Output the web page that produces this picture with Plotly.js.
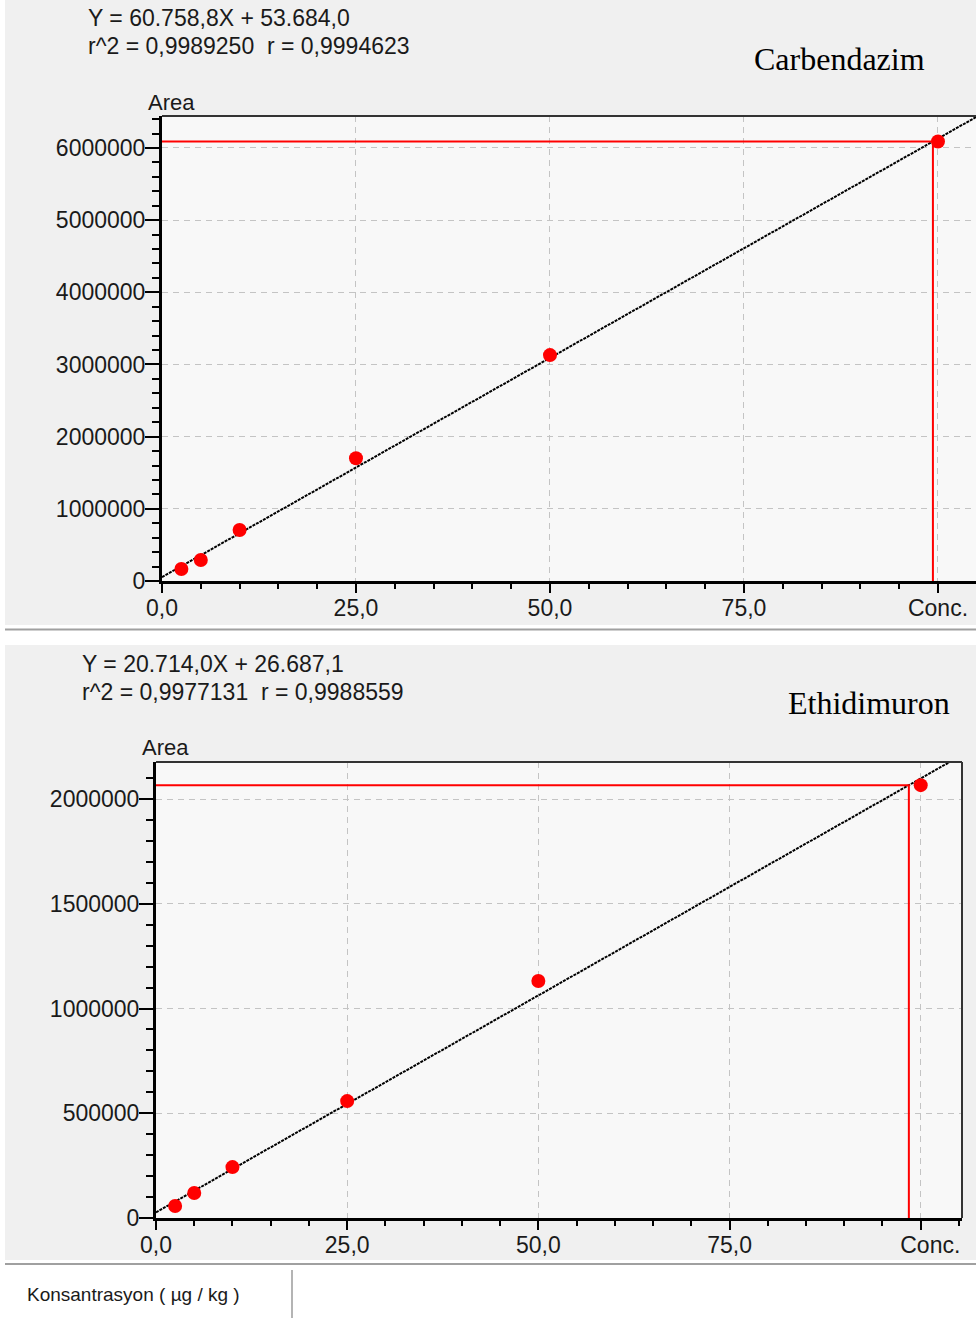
<!DOCTYPE html>
<html>
<head>
<meta charset="utf-8">
<script src="https://cdn.plot.ly/plotly-3.0.1.min.js"></script>
<style>html,body{margin:0;padding:0;background:#fff;}#chart{width:976px;height:1318px;}</style>
</head>
<body>
<div id="chart"></div>
<script>
// ---- data ----
const concentrations = [2.5, 5, 10, 25, 50, 100];
const carbendazimArea = [166000, 290000, 706000, 1700000, 3130000, 6090000];
const ethidimuronArea = [57000, 119000, 243000, 558000, 1131000, 2066000];
const carbendazimSlope = 60758.8, carbendazimIntercept = 53684.0;
const ethidimuronSlope = 20714.0, ethidimuronIntercept = 26687.1;
const xTickVals = [0, 25, 50, 75, 100];
const xTickTextTop = ['0,0', '25,0', '50,0', '75,0', 'Conc.'];
const xTickTextBottom = ['0,0', '25,0', '50,0', '75,0', '\u00a0\u00a0\u00a0Conc.'];
const carbYTicks = [0, 1000000, 2000000, 3000000, 4000000, 5000000, 6000000];
const ethiYTicks = [0, 500000, 1000000, 1500000, 2000000];
const carbEquation = ['Y = 60.758,8X + 53.684,0', 'r^2 = 0,9989250 \u00a0r = 0,9994623'];
const ethiEquation = ['Y = 20.714,0X + 26.687,1', 'r^2 = 0,9977131 \u00a0r = 0,9988559'];
const titles = ['Carbendazim', 'Ethidimuron'];
const footer = 'Konsantrasyon ( µg / kg )';

// ---- layout helpers ----
const W = 976, H = 1318;
const px = x => x / W;
const py = y => 1 - y / H;
const SANS = 'Liberation Sans, Arial, sans-serif';
const SERIF = 'Liberation Serif, Times New Roman, serif';
const tickFont = {family: SANS, size: 23, color: '#1a1a1a'};

const xRange1 = [0, 104.9], yRange1 = [0, 6443000];
const xRange2 = [0, 105.4], yRange2 = [0, 2176600];

function fitTraces(x, y, slope, intercept, xr, xa, ya) {
  const last = y[y.length - 1];
  const xc = (last - intercept) / slope;
  return [
    {x: [0, xr[1]], y: [intercept, slope * xr[1] + intercept], mode: 'lines',
     line: {color: '#000', width: 2, dash: '3px,1px'}, xaxis: xa, yaxis: ya, hoverinfo: 'skip'},
    {x: [0, xc, xc], y: [last, last, 0], mode: 'lines',
     line: {color: '#ff0000', width: 2}, xaxis: xa, yaxis: ya, hoverinfo: 'skip'},
    {x: x, y: y, mode: 'markers', marker: {color: '#ff0000', size: 14, symbol: 'circle'},
     xaxis: xa, yaxis: ya, cliponaxis: false}
  ];
}

const data = [
  ...fitTraces(concentrations, carbendazimArea, carbendazimSlope, carbendazimIntercept, xRange1, 'x', 'y'),
  ...fitTraces(concentrations, ethidimuronArea, ethidimuronSlope, ethidimuronIntercept, xRange2, 'x2', 'y2')
];

function xAxis(domain, range, anchor, tickText) {
  return {
    domain: domain, range: range, anchor: anchor, automargin: false,
    tickmode: 'array', tickvals: xTickVals, ticktext: tickText,
    ticks: 'outside', ticklen: 9, tickwidth: 2, tickcolor: '#000', ticklabelstandoff: -5,
    ticklabeloverflow: 'allow',
    minor: {tickmode: 'linear', tick0: 0, dtick: 5, ticks: 'outside', ticklen: 5, tickwidth: 2, tickcolor: '#000', showgrid: false},
    showline: true, linewidth: 3, linecolor: '#000',
    showgrid: true, gridcolor: '#c4c4c4', gridwidth: 1, griddash: '6px,5px',
    zeroline: false, tickfont: tickFont, fixedrange: true
  };
}
function yAxis(domain, range, anchor, ticks, minorStep) {
  return {
    domain: domain, range: range, anchor: anchor, automargin: false,
    tickmode: 'array', tickvals: ticks, tickformat: 'd',
    ticks: 'outside', ticklen: 14, tickwidth: 2, tickcolor: '#000', ticklabelstandoff: -5,
    minor: {tickmode: 'linear', tick0: 0, dtick: minorStep, ticks: 'outside', ticklen: 7, tickwidth: 2, tickcolor: '#000', showgrid: false},
    showline: true, linewidth: 3, linecolor: '#000',
    showgrid: true, gridcolor: '#c4c4c4', gridwidth: 1, griddash: '6px,5px',
    zeroline: false, tickfont: tickFont, fixedrange: true
  };
}

function ann(text, x, y, font, anchor) {
  return {text: text, xref: 'paper', yref: 'paper', x: px(x), y: py(y),
          xanchor: anchor || 'left', yanchor: 'middle', showarrow: false, font: font};
}
const eqFont = {family: SANS, size: 23, color: '#1a1a1a'};
const titleFont = {family: SERIF, size: 32, color: '#000'};

const layout = {
  width: W, height: H, margin: {l: 0, r: 0, t: 0, b: 0},
  paper_bgcolor: '#f0f0f0', plot_bgcolor: '#f8f8f8', showlegend: false,
  xaxis: xAxis([px(162), 1], xRange1, 'y', xTickTextTop),
  yaxis: yAxis([py(581), py(116)], yRange1, 'x', carbYTicks, 200000),
  xaxis2: xAxis([px(156), px(962)], xRange2, 'y2', xTickTextBottom),
  yaxis2: yAxis([py(1218), py(762)], yRange2, 'x2', ethiYTicks, 100000),
  annotations: [
    ann(carbEquation[0], 86, 18, eqFont),
    ann(carbEquation[1], 86, 46, eqFont),
    ann('Area', 146, 102, {family: SANS, size: 22, color: '#1a1a1a'}),
    ann(titles[0], 752, 59, titleFont),
    ann(ethiEquation[0], 80, 664, eqFont),
    ann(ethiEquation[1], 80, 692, eqFont),
    ann('Area', 140, 747, {family: SANS, size: 22, color: '#1a1a1a'}),
    ann(titles[1], 786, 703, titleFont),
    ann(footer, 25, 1294, {family: SANS, size: 19, color: '#1a1a1a'})
  ],
  shapes: [
    {type: 'rect', xref: 'paper', yref: 'paper', x0: 0, x1: px(5), y0: 0, y1: 1, fillcolor: '#fff', line: {width: 0}, layer: 'below'},
    {type: 'rect', xref: 'paper', yref: 'paper', x0: 0, x1: 1, y0: py(645), y1: py(625), fillcolor: '#fff', line: {width: 0}, layer: 'below'},
    {type: 'rect', xref: 'paper', yref: 'paper', x0: 0, x1: 1, y0: 0, y1: py(1260), fillcolor: '#fff', line: {width: 0}, layer: 'below'},
    {type: 'line', xref: 'paper', yref: 'paper', x0: px(5), x1: 1, y0: py(629.5), y1: py(629.5), line: {color: '#a0a0a0', width: 2}},
    {type: 'line', xref: 'paper', yref: 'paper', x0: px(5), x1: 1, y0: py(1264), y1: py(1264), line: {color: '#a0a0a0', width: 2}},
    {type: 'line', xref: 'paper', yref: 'paper', x0: px(292), x1: px(292), y0: py(1270), y1: 0, line: {color: '#b4b4b4', width: 2}},
    {type: 'line', xref: 'x domain', yref: 'y domain', x0: 0, x1: 1, y0: 1, y1: 1, line: {color: '#333', width: 2}},
    {type: 'line', xref: 'x2 domain', yref: 'y2 domain', x0: 0, x1: 1, y0: 1, y1: 1, line: {color: '#333', width: 2}},
    {type: 'line', xref: 'x2 domain', yref: 'y2 domain', x0: 1, x1: 1, y0: 0, y1: 1, line: {color: '#333', width: 2}}
  ]
};

Plotly.newPlot('chart', data, layout, {staticPlot: true, displayModeBar: false});
</script>
</body>
</html>
